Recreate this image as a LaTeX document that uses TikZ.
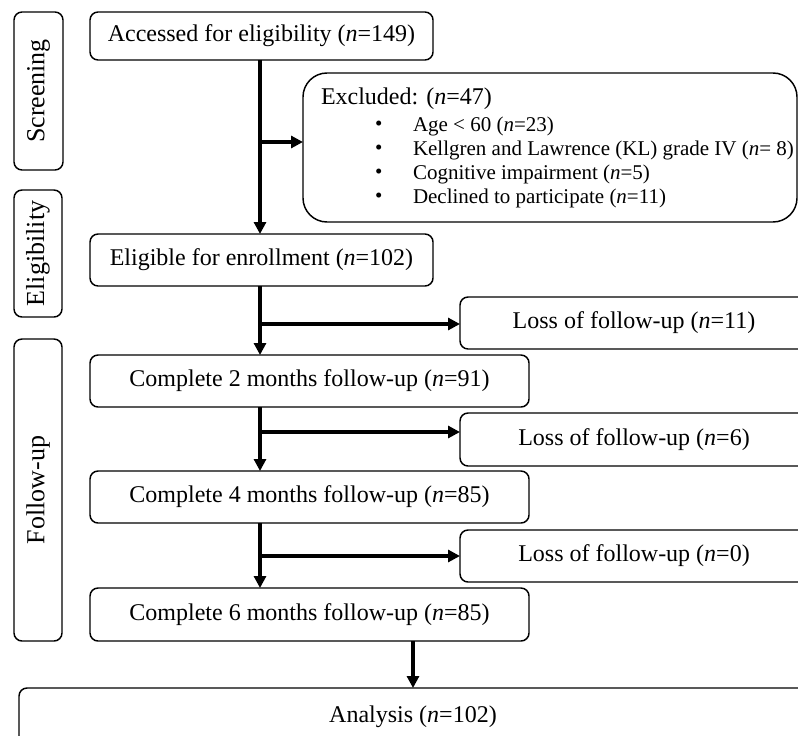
\documentclass[tikz,border=0pt]{standalone}
\usepackage{fontspec}
\setmainfont{Liberation Serif}
\usetikzlibrary{arrows.meta}
\begin{document}
\begin{tikzpicture}[x=0.75pt,y=-0.75pt,
  box/.style={draw,line width=1.1pt,rounded corners=6pt,inner sep=0pt,outer sep=0pt,align=center},
  bigtxt/.style={font=\fontsize{18pt}{21pt}\selectfont},
  labtxt/.style={font=\fontsize{19.5pt}{23pt}\selectfont},
  txt/.style={inner sep=0pt,outer sep=0pt,anchor=west,font=\fontsize{15.75pt}{19pt}\selectfont},
  arr/.style={line width=2.6pt,-{Triangle[length=9pt,width=9pt]}},
]
\clip (0,0) rectangle (798,735);
\fill[white] (0,0) rectangle (798,735);
% phase labels
\node[box,minimum width=49*0.75pt,minimum height=158*0.75pt] (lab1) at (38.5,91) {};
\node[labtxt,rotate=90,inner sep=0pt] (lab1t) at (lab1.center) {Screening};
\node[box,minimum width=48*0.75pt,minimum height=127*0.75pt] (lab2) at (38,253.5) {};
\node[labtxt,rotate=90,inner sep=0pt] (lab2t) at (lab2.center) {Eligibility};
\node[box,minimum width=48*0.75pt,minimum height=302*0.75pt] (lab3) at (38,490) {};
\node[labtxt,rotate=90,inner sep=0pt] (lab3t) at (lab3.center) {Follow-up};
% main boxes
\node[box,bigtxt,minimum width=343*0.75pt,minimum height=48*0.75pt] (acc) at (261.5,36) {Accessed for eligibility (\textit{n}=149)};
\node[box,bigtxt,minimum width=343*0.75pt,minimum height=52*0.75pt] (elig) at (261.5,260) {Eligible for enrollment (\textit{n}=102)};
\node[box,rounded corners=18pt,minimum width=494*0.75pt,minimum height=149*0.75pt] (excl) at (550,147.5) {};
\node[txt,bigtxt] (ex0) at (321,99) {Excluded: (\textit{n}=47)};
\node[txt] (b1) at (375,126) {•};
\node[txt] (b2) at (375,150) {•};
\node[txt] (b3) at (375,174) {•};
\node[txt] (b4) at (375,198) {•};
\node[txt] (ex1) at (413,126) {Age < 60 (\textit{n}=23)};
\node[txt] (ex2) at (413,150) {Kellgren and Lawrence (KL) grade IV (\textit{n}= 8)};
\node[txt] (ex3) at (413,174) {Cognitive impairment (\textit{n}=5)};
\node[txt] (ex4) at (413,198) {Declined to participate (\textit{n}=11)};
\node[box,bigtxt,minimum width=439*0.75pt,minimum height=52*0.75pt] (c2) at (309.5,381) {Complete 2 months follow-up (\textit{n}=91)};
\node[box,bigtxt,minimum width=439*0.75pt,minimum height=52*0.75pt] (c4) at (309.5,497) {Complete 4 months follow-up (\textit{n}=85)};
\node[box,bigtxt,minimum width=439*0.75pt,minimum height=53*0.75pt] (c6) at (309.5,614.5) {Complete 6 months follow-up (\textit{n}=85)};
\node[box,bigtxt,minimum width=348*0.75pt,minimum height=52*0.75pt] (l11) at (634,323) {Loss of follow-up (\textit{n}=11)};
\node[box,bigtxt,minimum width=348*0.75pt,minimum height=53*0.75pt] (l6) at (634,439.5) {Loss of follow-up (\textit{n}=6)};
\node[box,bigtxt,minimum width=348*0.75pt,minimum height=52*0.75pt] (l0) at (634,556) {Loss of follow-up (\textit{n}=0)};
\node[box,bigtxt,minimum width=788*0.75pt,minimum height=60*0.75pt] (an) at (413,718) {};
\node[bigtxt,inner sep=0pt] (ant) at (413,717) {Analysis (\textit{n}=102)};
% connectors
\coordinate (vx) at (260,0);
\coordinate (ax) at (413,0);
\coordinate (j1) at (260,142);
\coordinate (j2) at (260,324);
\coordinate (j3) at (260,432);
\coordinate (j4) at (260,556);
\draw[arr] (vx |- acc.south) -- (vx |- elig.north);
\draw[arr] (j1) -- (j1 -| excl.west);
\draw[arr] (vx |- elig.south) -- (vx |- c2.north);
\draw[arr] (j2) -- (j2 -| l11.west);
\draw[arr] (vx |- c2.south) -- (vx |- c4.north);
\draw[arr] (j3) -- (j3 -| l6.west);
\draw[arr] (vx |- c4.south) -- (vx |- c6.north);
\draw[arr] (j4) -- (j4 -| l0.west);
\draw[arr] (ax |- c6.south) -- (ax |- an.north);
\end{tikzpicture}
\end{document}
